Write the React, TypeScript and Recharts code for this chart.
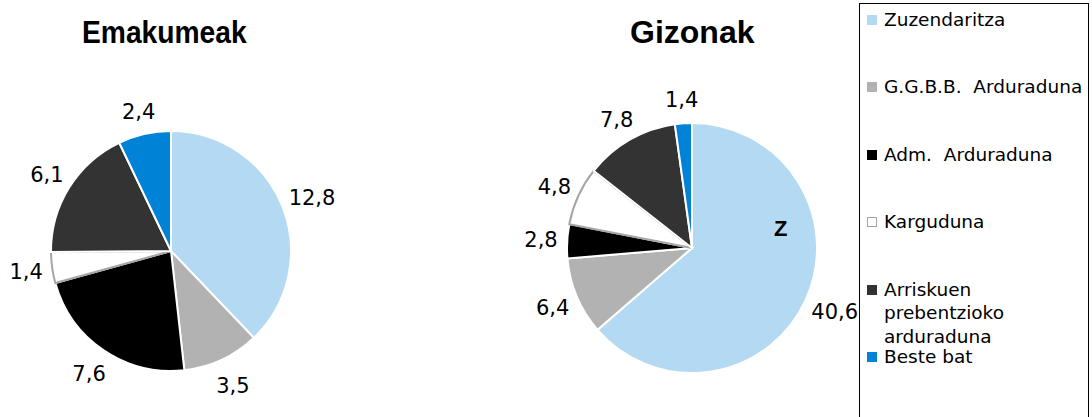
import React from 'react';
import { Cell, Pie, PieChart } from 'recharts';

const categories = [
  'Zuzendaritza',
  'G.G.B.B.  Arduraduna',
  'Adm.  Arduraduna',
  'Karguduna',
  'Arriskuen prebentzioko arduraduna',
  'Beste bat',
];
const emakumeak = [12.8, 3.5, 7.6, 1.4, 6.1, 2.4];
const gizonak = [40.6, 6.4, 2.8, 4.8, 7.8, 1.4];
const colors = ['#B3DAF2', '#B2B2B2', '#000000', '#FFFFFF', '#333333', '#0082D6'];
const strokes = ['#FFFFFF', '#FFFFFF', '#FFFFFF', '#A6A6A6', '#FFFFFF', '#FFFFFF'];

const womenData = categories.map((name, i) => ({ name, value: emakumeak[i] }));
const menData = categories.map((name, i) => ({ name, value: gizonak[i] }));

const RAD = Math.PI / 180;

// label box sits just outside the slice, pushed out by its own half size
const renderLabel = (props: any) => {
  const { cx, cy, midAngle, outerRadius, value } = props;
  const text = value.toFixed(1).replace('.', ',');
  const cos = Math.cos(-midAngle * RAD);
  const sin = Math.sin(-midAngle * RAD);
  const hw = (((text.length - 1) * 13.4 + 6.7) / 2) * 0.85;
  const hh = sin > 0 ? 17 : 11;
  const R = outerRadius + 12;
  const x = cx + (R + hw) * cos;
  const y = cy + (R + hh) * sin;
  return (
    <text
      x={x}
      y={y}
      textAnchor="middle"
      dominantBaseline="central"
      fill="#000"
      fontSize={21}
      fontFamily="DejaVu Sans, Verdana, sans-serif"
    >
      {text}
    </text>
  );
};

const titleStyle: React.CSSProperties = {
  position: 'absolute',
  fontFamily: 'Liberation Sans, Arial, sans-serif',
  fontWeight: 'bold',
  color: '#000',
  lineHeight: 1,
};

const App = () => {
  return (
    <div style={{ position: 'absolute', left: 0, top: 0, width: 1092, height: 417, background: '#fff', overflow: 'hidden' }}>
      <PieChart width={862} height={417} margin={{ top: 0, right: 0, bottom: 0, left: 0 }}>
        <Pie
          data={womenData}
          dataKey="value"
          cx={171}
          cy={251}
          outerRadius={120}
          startAngle={90}
          endAngle={-270}
          label={renderLabel}
          labelLine={false}
          isAnimationActive={false}
        >
          {womenData.map((d, i) => (
            <Cell key={d.name} fill={colors[i]} stroke={strokes[i]} strokeWidth={2} />
          ))}
        </Pie>
        <Pie
          data={menData}
          dataKey="value"
          cx={692}
          cy={248}
          outerRadius={125}
          startAngle={90}
          endAngle={-270}
          label={renderLabel}
          labelLine={false}
          isAnimationActive={false}
        >
          {menData.map((d, i) => (
            <Cell key={d.name} fill={colors[i]} stroke={strokes[i]} strokeWidth={2} />
          ))}
        </Pie>
      </PieChart>

      <div style={{ ...titleStyle, left: 82, top: 17, fontSize: 31, transform: 'scaleX(0.91)', transformOrigin: 'left top' }}>
        Emakumeak
      </div>
      <div style={{ ...titleStyle, left: 630, top: 16, fontSize: 32 }}>Gizonak</div>
      <div style={{ ...titleStyle, left: 774, top: 218, fontSize: 22 }}>Z</div>

      <div
        style={{
          position: 'absolute',
          left: 859,
          top: 3,
          width: 230,
          height: 430,
          border: '1.5px solid #000',
          boxSizing: 'border-box',
        }}
      />
      {categories.map((name, i) => (
        <div
          key={name}
          style={{
            position: 'absolute',
            left: 867,
            top: 20 + 67.4 * i - 12,
            width: 222,
            display: 'flex',
            alignItems: 'flex-start',
            fontFamily: 'DejaVu Sans, Verdana, sans-serif',
            fontSize: 18.5,
            lineHeight: '23.5px',
          }}
        >
          <div
            style={{
              width: i === 3 ? 8 : 10,
              height: i === 3 ? 8 : 10,
              marginTop: 7,
              marginRight: 7,
              flexShrink: 0,
              background: colors[i],
              border: i === 3 ? '1.5px solid #A6A6A6' : 'none',
            }}
          />
          <div style={{ whiteSpace: 'pre-wrap', width: 203 }}>{name}</div>
        </div>
      ))}
    </div>
  );
};

export default App;
